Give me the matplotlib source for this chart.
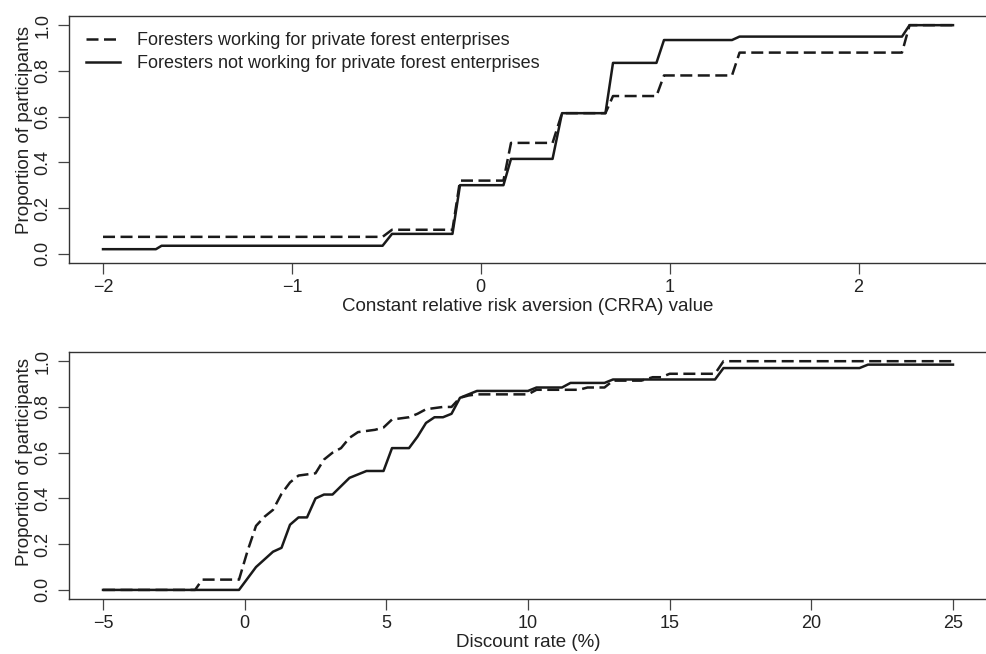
import matplotlib
matplotlib.use("Agg")
import matplotlib.pyplot as plt

# fonts
plt.rcParams["font.family"] = ["Liberation Sans", "DejaVu Sans"]

# data: CRRA panel (line vertices)
crra_private_x = [-2, -0.52, -0.47, -0.15, -0.11, 0.12, 0.16, 0.38, 0.43, 0.66, 0.70,
                  0.93, 0.97, 1.33, 1.37, 2.23, 2.27, 2.5]
crra_private_y = [0.074, 0.074, 0.105, 0.105, 0.32, 0.32, 0.485, 0.485, 0.615, 0.615, 0.69,
                  0.69, 0.78, 0.78, 0.88, 0.88, 1.0, 1.0]
crra_other_x = [-2, -1.72, -1.69, -0.52, -0.47, -0.15, -0.11, 0.12, 0.16, 0.38, 0.43, 0.66,
                0.70, 0.93, 0.97, 1.33, 1.37, 2.23, 2.27, 2.5]
crra_other_y = [0.02, 0.02, 0.035, 0.035, 0.087, 0.087, 0.30, 0.30, 0.415, 0.415, 0.615, 0.615,
                0.835, 0.835, 0.935, 0.935, 0.95, 0.95, 1.0, 1.0]

# data: discount rate panel
disc_private_x = [-5, -1.75, -1.5, -0.2, 0.1, 0.4, 0.7, 1.0, 1.3, 1.6, 1.9, 2.5, 2.8, 3.1,
                  3.4, 3.7, 4.0, 4.6, 4.9, 5.2, 5.8, 6.1, 6.4, 7.0, 7.3, 7.6, 7.9, 8.2,
                  10.0, 10.3, 11.8, 12.1, 12.7, 13.0, 14.0, 14.4, 14.7, 15.0, 16.6, 16.9, 25]
disc_private_y = [0, 0, 0.045, 0.045, 0.17, 0.28, 0.32, 0.35, 0.42, 0.47, 0.50, 0.51, 0.57, 0.60,
                  0.62, 0.665, 0.69, 0.70, 0.71, 0.745, 0.755, 0.77, 0.79, 0.80, 0.80, 0.84, 0.85, 0.855,
                  0.855, 0.875, 0.875, 0.885, 0.885, 0.915, 0.915, 0.93, 0.93, 0.945, 0.945, 1.0, 1.0]
disc_other_x = [-5, -0.2, 0.4, 1.0, 1.3, 1.6, 1.9, 2.2, 2.5, 2.8, 3.1, 3.7, 4.3, 4.9, 5.2, 5.8,
                6.1, 6.4, 6.7, 7.0, 7.3, 7.6, 8.2, 10.0, 10.3, 11.2, 11.5, 12.7, 13.0, 16.6,
                16.9, 21.7, 22.0, 25]
disc_other_y = [0, 0, 0.10, 0.167, 0.184, 0.285, 0.317, 0.317, 0.40, 0.417, 0.417, 0.49, 0.52, 0.52,
                0.62, 0.62, 0.67, 0.73, 0.755, 0.755, 0.77, 0.84, 0.87, 0.87, 0.885, 0.885, 0.905,
                0.905, 0.92, 0.92, 0.97, 0.97, 0.985, 0.985]

legend_labels = ["Foresters working for private forest enterprises",
                 "Foresters not working for private forest enterprises"]
y_ticks = [0.0, 0.2, 0.4, 0.6, 0.8, 1.0]
crra_ticks = [-2, -1, 0, 1, 2]
disc_ticks = [-5, 0, 5, 10, 15, 20, 25]

ink = "#1a1a1a"
dash = (0, (4.8, 2.2))

fig = plt.figure(figsize=(9.86, 6.54), dpi=100)
ax1 = fig.add_axes([0.070, 0.598, 0.931, 0.3775])
ax2 = fig.add_axes([0.070, 0.084, 0.931, 0.3777])


def style_axis(ax, xlim, xticks, xlabel, ylab_y):
    ax.set_xlim(*xlim)
    ax.set_ylim(-0.04, 1.04)
    ax.set_xticks(xticks)
    ax.set_yticks(y_ticks)
    ax.set_yticklabels([f"{v:.1f}" for v in y_ticks], rotation=90, va="center")
    ax.set_xlabel(xlabel, fontsize=13.5, color="#222222", labelpad=1.5)
    ax.set_ylabel("Proportion of participants", fontsize=13.5, color="#222222")
    ax.yaxis.set_label_coords(-0.039, ylab_y)
    ax.tick_params(axis="both", direction="out", length=8, width=0.9, colors="#444444",
                   labelcolor="#222222", labelsize=13)
    ax.tick_params(axis="x", pad=3.5)
    ax.tick_params(axis="y", pad=4.5)
    for side in ["left", "bottom", "top"]:
        ax.spines[side].set_linewidth(1.0)
        ax.spines[side].set_color("#333333")
    ax.spines["right"].set_visible(False)


# top panel
ax1.plot(crra_private_x, crra_private_y, color=ink, lw=1.8, linestyle=dash, label=legend_labels[0])
ax1.plot(crra_other_x, crra_other_y, color=ink, lw=1.8, label=legend_labels[1])
style_axis(ax1, (-2.18, 2.68), crra_ticks, "Constant relative risk aversion (CRRA) value", 0.54)
ax1.legend(loc="upper left", bbox_to_anchor=(0.0083, 0.972), frameon=False, borderpad=0,
           handlelength=1.9, handletextpad=0.95, labelspacing=0.35, fontsize=13,
           labelcolor="#222222")

# bottom panel
ax2.plot(disc_private_x, disc_private_y, color=ink, lw=1.8, linestyle=dash)
ax2.plot(disc_other_x, disc_other_y, color=ink, lw=1.8)
style_axis(ax2, (-6.2, 26.2), disc_ticks, "Discount rate (%)", 0.555)

fig.savefig("out.png", dpi=100)
